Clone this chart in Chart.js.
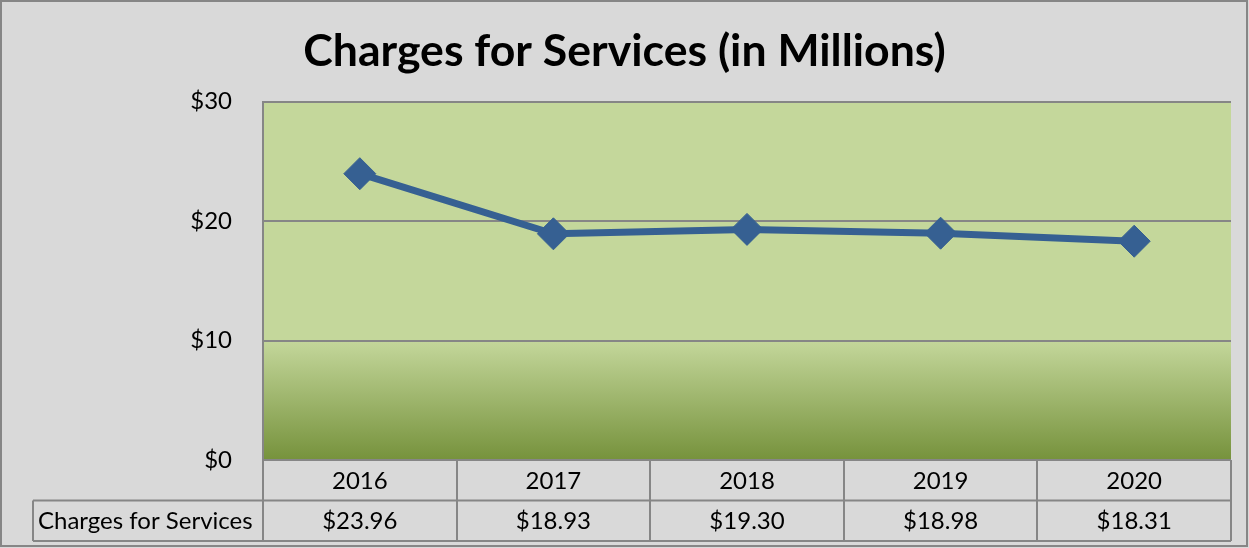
<!DOCTYPE html>
<html>
<head>
<meta charset="utf-8">
<script src="https://cdn.jsdelivr.net/npm/chart.js@4/dist/chart.umd.min.js"></script>
<style>
	html, body { margin: 0; padding: 0; background: #d9d9d9; }
	#wrap { width: 1249px; height: 548px; }
</style>
</head>
<body>
<div id="wrap"><canvas id="chart" width="1249" height="548"></canvas></div>
<script>
const YEARS		= [ '2016', '2017', '2018', '2019', '2020' ];
const CHARGES	= [ 23.96, 18.93, 19.30, 18.98, 18.31 ];
const SERIES	= 'Charges for Services';
const TITLE		= 'Charges for Services (in Millions)';
const Y_TICKS	= [ 0, 10, 20, 30 ];

const FONT		= 'Lato, "Open Sans", sans-serif';
const GRID		= '#868686';

const money = v => '$' + v.toFixed( 2 );

// plot background: flat green, gradient below the $10 line
const plotFill = {
	id: 'plotFill',
	beforeDraw( chart ) {
		const c	= chart.ctx;
		const a	= chart.chartArea;
		const y	= chart.scales.y;
		const y10	= y.getPixelForValue( 10 );
		c.save();
		c.fillStyle	= '#c4d79b';
		c.fillRect( a.left, a.top, a.right - a.left, a.bottom - a.top );
		let g	= c.createLinearGradient( 0, y10, 0, a.bottom );
		g.addColorStop( 0, '#c4d79b' );
		g.addColorStop( 1, '#76923c' );
		c.fillStyle	= g;
		c.fillRect( a.left, y10, a.right - a.left, a.bottom - y10 );
		c.restore();
	}
};

// data table under the x axis
const dataTable = {
	id: 'dataTable',
	afterDraw( chart ) {
		const c	= chart.ctx;
		const a	= chart.chartArea;
		const x	= chart.scales.x;
		const rowH	= 40.5;
		const r0	= a.bottom;
		const r1	= r0 + rowH;
		const r2	= r1 + rowH;
		const labLeft	= 33;
		const step	= ( a.right - a.left ) / YEARS.length;

		c.save();
		c.strokeStyle	= GRID;
		c.lineWidth	= 2;
		c.beginPath();
		for ( let i = 0; i <= YEARS.length; i++ ) {
			let px	= Math.round( a.left + i * step );
			c.moveTo( px, r0 );
			c.lineTo( px, r2 );
		}
		c.moveTo( labLeft, r1 );
		c.lineTo( a.right, r1 );
		c.moveTo( labLeft, r2 );
		c.lineTo( a.right, r2 );
		c.moveTo( labLeft, r1 );
		c.lineTo( labLeft, r2 );
		c.stroke();

		c.fillStyle	= '#000';
		c.font	= '24px ' + FONT;
		c.textBaseline	= 'middle';
		c.textAlign	= 'center';
		YEARS.forEach( ( yr, i ) => {
			let px	= x.getPixelForValue( i );
			c.fillText( yr, px, ( r0 + r1 ) / 2 + 1 );
			c.fillText( money( CHARGES[ i ] ), px, ( r1 + r2 ) / 2 + 1 );
		} );
		c.textAlign	= 'left';
		c.fillText( SERIES, 38, ( r1 + r2 ) / 2 + 1 );

		// outer frame
		c.lineWidth	= 2;
		c.strokeRect( 1, 1, 1246, 545 );
		c.restore();
	}
};

const cfg = {
	type: 'line',
	data: {
		labels: YEARS,
		datasets: [ {
			label: SERIES,
			data: CHARGES,
			borderColor: '#366092',
			backgroundColor: '#366092',
			borderWidth: 7,
			pointStyle: 'rectRot',
			pointRadius: 16,
			pointHoverRadius: 16,
			pointBorderWidth: 1,
			tension: 0
		} ]
	},
	options: {
		responsive: false,
		animation: false,
		layout: { padding: { left: 18, right: 18, top: 0, bottom: 88 } },
		plugins: {
			legend: { display: false },
			tooltip: { enabled: false },
			title: {
				display: true,
				text: TITLE,
				color: '#000',
				font: { family: FONT, size: 44.6, weight: 'bold' },
				padding: { top: 25, bottom: 23 }
			}
		},
		scales: {
			x: {
				offset: true,
				grid: { display: false, drawTicks: false },
				border: { display: false },
				ticks: { display: false },
				afterFit: s => { s.height = 0; }
			},
			y: {
				min: 0,
				max: 30,
				afterBuildTicks: s => { s.ticks = Y_TICKS.map( v => ( { value: v } ) ); },
				afterFit: s => { s.width = 245; },
				grid: { color: GRID, lineWidth: 2, drawTicks: false },
				border: { color: GRID, width: 2 },
				ticks: {
					color: '#000',
					padding: 31,
					font: { family: FONT, size: 24 },
					callback: v => '$' + v
				}
			}
		}
	},
	plugins: [ plotFill, dataTable ]
};

new Chart( document.getElementById( 'chart' ), cfg );
</script>
</body>
</html>
